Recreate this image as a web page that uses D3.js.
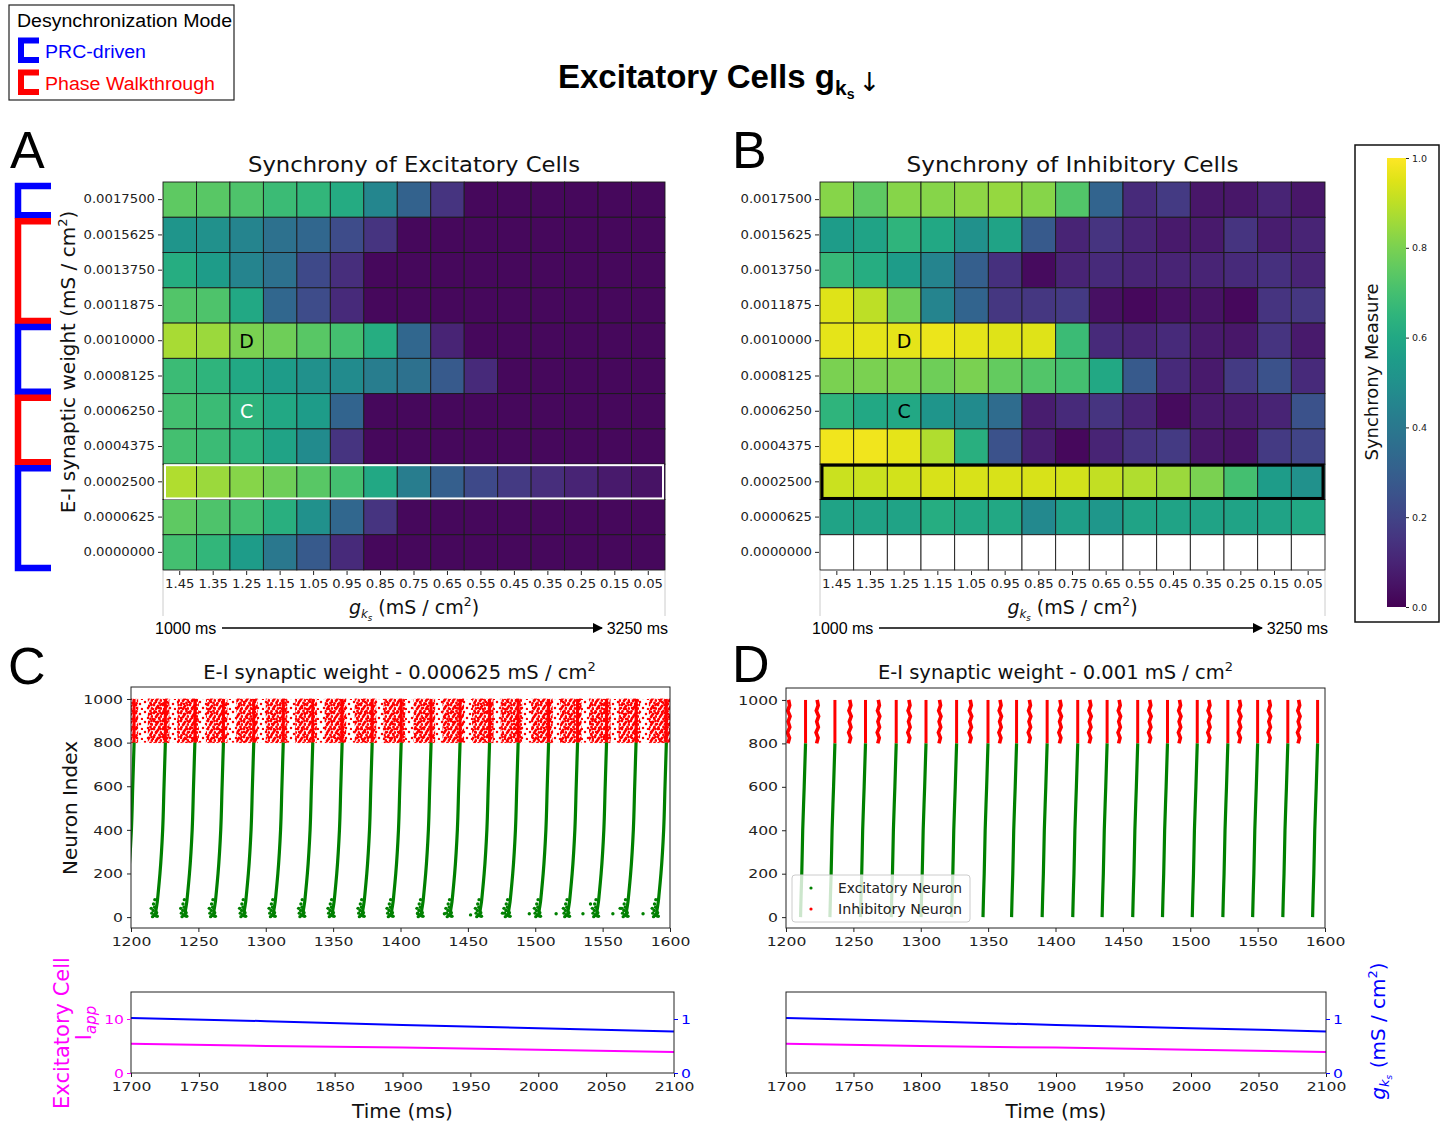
<!doctype html>
<html>
<head>
<meta charset="utf-8">
<style>
    body { margin: 0; background: #fff; }
    svg { display: block; font-family: 'DejaVu Sans', sans-serif; }
    .sans { font-family: 'Liberation Sans', Arial, sans-serif; }
    .tick text { fill: #222; }
    .tick line { stroke: #222; }
</style>
<script src="https://cdn.jsdelivr.net/npm/d3@7"></script>
</head>
<body>
<svg width="1452" height="1122"></svg>
<script>
// ---------- data ----------
const gksLabels = ['1.45','1.35','1.25','1.15','1.05','0.95','0.85','0.75','0.65','0.55','0.45','0.35','0.25','0.15','0.05'];
const weightLabels = ['0.0017500','0.0015625','0.0013750','0.0011875','0.0010000','0.0008125',
                      '0.0006250','0.0004375','0.0002500','0.0000625','0.0000000'];

const syncExc = [
    [0.75,0.74,0.72,0.68,0.66,0.61,0.46,0.31,0.15,0.02,0.02,0.02,0.02,0.02,0.02],
    [0.52,0.50,0.45,0.37,0.33,0.23,0.15,0.02,0.02,0.02,0.02,0.02,0.02,0.02,0.02],
    [0.62,0.55,0.45,0.37,0.22,0.13,0.02,0.02,0.02,0.02,0.02,0.02,0.02,0.02,0.02],
    [0.73,0.72,0.60,0.33,0.23,0.12,0.02,0.02,0.02,0.02,0.02,0.02,0.02,0.02,0.02],
    [0.87,0.85,0.80,0.78,0.74,0.70,0.62,0.33,0.10,0.02,0.02,0.02,0.02,0.02,0.02],
    [0.68,0.65,0.60,0.55,0.50,0.48,0.42,0.37,0.28,0.12,0.02,0.02,0.02,0.02,0.02],
    [0.70,0.68,0.65,0.60,0.55,0.32,0.02,0.02,0.02,0.02,0.02,0.02,0.02,0.02,0.02],
    [0.70,0.68,0.65,0.58,0.48,0.15,0.02,0.02,0.02,0.02,0.02,0.02,0.02,0.02,0.02],
    [0.88,0.85,0.82,0.78,0.74,0.70,0.60,0.42,0.30,0.22,0.17,0.13,0.10,0.07,0.05],
    [0.75,0.72,0.70,0.63,0.50,0.33,0.15,0.02,0.02,0.02,0.02,0.02,0.02,0.02,0.02],
    [0.70,0.66,0.55,0.40,0.28,0.12,0.02,0.02,0.02,0.02,0.02,0.02,0.02,0.02,0.02]
];

const syncInh = [
    [0.82,0.75,0.82,0.82,0.83,0.84,0.82,0.73,0.32,0.12,0.17,0.06,0.06,0.10,0.06],
    [0.55,0.58,0.65,0.60,0.50,0.58,0.28,0.10,0.15,0.10,0.07,0.07,0.15,0.08,0.10],
    [0.67,0.62,0.55,0.45,0.30,0.14,0.03,0.10,0.12,0.10,0.10,0.10,0.12,0.14,0.10],
    [0.95,0.90,0.78,0.45,0.32,0.16,0.16,0.17,0.04,0.02,0.04,0.05,0.02,0.15,0.16],
    [0.96,0.96,0.96,0.97,0.96,0.95,0.95,0.68,0.12,0.10,0.12,0.07,0.06,0.15,0.07],
    [0.80,0.80,0.80,0.78,0.80,0.76,0.73,0.70,0.60,0.28,0.12,0.07,0.17,0.25,0.12],
    [0.65,0.60,0.60,0.52,0.48,0.35,0.08,0.12,0.15,0.10,0.03,0.07,0.07,0.10,0.25],
    [0.98,0.98,0.96,0.88,0.63,0.25,0.08,0.02,0.10,0.15,0.17,0.06,0.05,0.17,0.20],
    [0.92,0.92,0.93,0.94,0.94,0.94,0.94,0.93,0.91,0.88,0.85,0.80,0.70,0.55,0.50],
    [0.58,0.58,0.58,0.62,0.60,0.60,0.47,0.56,0.53,0.58,0.58,0.58,0.58,0.58,0.60],
    [null,null,null,null,null,null,null,null,null,null,null,null,null,null,null]
];

// desynchronization mode per group of weight rows (first row, last row)
const modeGroups = [
    { first: 0, last: 0, mode: 'PRC' },
    { first: 1, last: 3, mode: 'PW' },
    { first: 4, last: 5, mode: 'PRC' },
    { first: 6, last: 7, mode: 'PW' },
    { first: 8, last: 10, mode: 'PRC' }
];
const highlightRow = '0.0002500';
const markC = { gks: '1.25', w: '0.0006250' };
const markD = { gks: '1.25', w: '0.0010000' };

// raster C (w = 0.000625): times when each excitatory volley reaches neuron 800
const burstsC = [1202.3,1225.5,1247.4,1268.6,1291.1,1313.0,1334.9,1356.7,1379.0,1400.5,
                 1422.7,1444.2,1466.1,1487.3,1509.9,1531.4,1552.9,1574.8,1597.3];
// shape of a volley: [ms before the top, neuron index]
const volleyShapeC = [[-7.5,0],[-7,30],[-6,70],[-5.5,100],[-4,200],[-2,400],[-1,600],[0,800]];
const volleyFootC = [[-9.5,2],[-8.5,10],[-10,18],[-7,6],[-9,30],[-8,45],[-6.5,20],[-8.8,60],[-7.8,80],[-10.5,40],[-6,4]];
const strayC = [[1412.8,15],[1432.6,15],[1475.7,18],[1495.6,15],[1515.5,15],[1535.4,15],
                [1557.6,15],[1580,15],[1452,10],[1541,60],[1563,40]];
const inhWindowC = [-13, 3];   // dense inhibitory firing around each volley (ms)

// raster D (w = 0.001)
const burstsD = [1214.5,1236.3,1259.0,1281.8,1303.9,1326.6,1349.9,1371.1,1393.8,1416.5,
                 1438.3,1461.0,1483.1,1505.2,1527.9,1550.0,1572.4,1594.5];
const volleyShapeD = [[-3.7,0],[-3.3,100],[-2.8,200],[-2.1,400],[-1,600],[0,800]];
const inhClustersD = [1201.5,1222.7,1246.9,1268.1,1290.8,1313.5,1336.3,1358.4,1380.2,
                      1402.9,1425.0,1446.8,1469.5,1491.6,1513.4,1536.1,1558.2,1580.0];
const clusterShapeD = [[0,800],[1.1,825],[-0.4,850],[1.3,875],[0.1,900],[1.5,925],[-0.2,950],[1.2,975],[0.4,1000]];

// lower traces
const gksTrace = [[1700,1.02],[1800,0.96],[1900,0.89],[2000,0.83],[2100,0.77]];
const iappTrace = [[1700,5.4],[1800,5.0],[1900,4.7],[2000,4.3],[2100,3.9]];

// ---------- helpers ----------
const svg = d3.select('svg');
const defs = svg.append('defs');
const viridis = d3.scaleSequential(d3.interpolateViridis).domain([0, 1]);
const BLUE = '#0000ff', RED = '#ff0000', MAG = '#ff00ff', GREEN = '#008000';
const intFmt = d3.format('d');

function stretch(sel, k) {
    sel.each(function () {
        const n = this.getComputedTextLength();
        d3.select(this).attr('textLength', n * k).attr('lengthAdjust', 'spacingAndGlyphs');
    });
}
function fitW(sel, w) {
    sel.attr('textLength', w).attr('lengthAdjust', 'spacingAndGlyphs');
}
function bracketPath(x1, x2, y0, y1) {
    return `M${x2},${y0}H${x1}V${y1}H${x2}`;
}

// arrow marker
defs.append('marker').attr('id', 'arrow')
    .attr('viewBox', '0 0 10 10').attr('refX', 9).attr('refY', 5)
    .attr('markerWidth', 7).attr('markerHeight', 7).attr('orient', 'auto')
    .append('path').attr('d', 'M0,0L10,5L0,10z').attr('fill', '#000');

// ---------- header ----------
svg.append('rect').attr('x', 9).attr('y', 5).attr('width', 225).attr('height', 95)
    .attr('fill', 'none').attr('stroke', '#222').attr('stroke-width', 1.2);
svg.append('text').attr('class', 'sans').attr('x', 17).attr('y', 27)
    .attr('font-size', 18).text('Desynchronization Mode').call(fitW, 215);
[{ y: 38, c: BLUE, t: 'PRC-driven' }, { y: 70, c: RED, t: 'Phase Walkthrough' }].forEach(d => {
    svg.append('path').attr('d', bracketPath(21, 39, d.y + 2.5, d.y + 22))
        .attr('fill', 'none').attr('stroke', d.c).attr('stroke-width', 6);
    svg.append('text').attr('class', 'sans').attr('x', 45).attr('y', d.y + 20)
        .attr('font-size', 18).attr('fill', d.c).text(d.t).call(fitW, d.t.length > 12 ? 170 : 101);
});

const title = svg.append('text').attr('class', 'sans').attr('x', 558).attr('y', 88)
    .attr('font-size', 33).attr('font-weight', 'bold');
title.append('tspan').text('Excitatory Cells g');
title.append('tspan').attr('font-size', 21).attr('dy', 7).text('k');
title.append('tspan').attr('font-size', 14).attr('dy', 4).text('s');
title.append('tspan').attr('dy', -8).attr('dx', 4).attr('font-size', 26).attr('font-weight', 'normal')
    .attr('font-family', 'DejaVu Sans').text('\u2193');

[['A', 10, 168], ['B', 732, 168], ['C', 8, 684], ['D', 732, 682]].forEach(d => {
    svg.append('text').attr('class', 'sans').attr('x', d[1]).attr('y', d[2])
        .attr('font-size', 52).text(d[0]);
});

// ---------- heatmaps ----------
function gksLabel(g, cx, y, size) {
    const t = g.append('text').attr('x', cx).attr('y', y).attr('text-anchor', 'middle')
        .attr('font-size', size).attr('fill', '#111');
    t.append('tspan').attr('font-style', 'italic').text('g');
    t.append('tspan').attr('font-style', 'italic').attr('font-size', size * 0.62).attr('dy', 4).text('k');
    t.append('tspan').attr('font-style', 'italic').attr('font-size', size * 0.45).attr('dy', 3).text('s');
    t.append('tspan').attr('dy', -7).text(' (mS / cm');
    t.append('tspan').attr('font-size', size * 0.65).attr('dy', -8).text('2');
    t.append('tspan').attr('dy', 8).text(')');
    return t;
}

function heatmap(o) {
    const g = svg.append('g');
    const x = d3.scaleBand().domain(gksLabels).range([o.l, o.r]);
    const y = d3.scaleBand().domain(weightLabels).range([o.t, o.b]);

    const cells = [];
    o.data.forEach((row, i) => row.forEach((v, j) => cells.push({ w: weightLabels[i], k: gksLabels[j], v })));
    g.selectAll('rect.cell').data(cells).join('rect').attr('class', 'cell')
        .attr('x', d => x(d.k)).attr('y', d => y(d.w))
        .attr('width', x.bandwidth()).attr('height', y.bandwidth())
        .attr('fill', d => d.v == null ? '#fff' : viridis(d.v))
        .attr('stroke', '#1a1a1a').attr('stroke-width', 0.9);

    // highlighted row
    g.append('rect').attr('x', o.l + 2).attr('y', y(highlightRow) + 1)
        .attr('width', o.r - o.l - 4).attr('height', y.bandwidth() - 2)
        .attr('fill', 'none').attr('stroke', o.hl).attr('stroke-width', o.hlw);

    // C / D marks
    [[markD, 'D', o.dColor], [markC, 'C', o.cColor]].forEach(m => {
        g.append('text').attr('x', x(m[0].gks) + x.bandwidth() / 2)
            .attr('y', y(m[0].w) + y.bandwidth() / 2 + 7)
            .attr('text-anchor', 'middle').attr('font-size', 19).attr('fill', m[2]).text(m[1]);
    });

    // axes
    const ya = g.append('g').attr('transform', `translate(${o.l - 1},0)`)
        .call(d3.axisLeft(y).tickSize(4).tickPadding(3));
    ya.select('.domain').remove();
    ya.selectAll('text').attr('font-size', 11.5).attr('font-family', 'DejaVu Sans').call(stretch, 1.15);
    const xa = g.append('g').attr('transform', `translate(0,${o.b + 1})`)
        .call(d3.axisBottom(x).tickSize(4).tickPadding(5));
    xa.select('.domain').remove();
    xa.selectAll('text').attr('font-size', 11.5).attr('font-family', 'DejaVu Sans').call(stretch, 1.15);

    // light spines below the grid
    [o.l, o.r].forEach(px => g.append('line').attr('x1', px).attr('x2', px)
        .attr('y1', o.b + 1).attr('y2', o.b + 46).attr('stroke', '#ccc').attr('stroke-width', 1));

    g.append('text').attr('x', (o.l + o.r) / 2).attr('y', 172).attr('text-anchor', 'middle')
        .attr('font-size', 22).attr('fill', '#111').text(o.title).call(fitW, 332);
    gksLabel(g, (o.l + o.r) / 2, 614, 19);

    // time arrow
    g.append('text').attr('class', 'sans').attr('x', o.l - 8).attr('y', 634)
        .attr('font-size', 16).text('1000 ms');
    g.append('text').attr('class', 'sans').attr('x', o.r + 3).attr('y', 634)
        .attr('font-size', 16).attr('text-anchor', 'end').text('3250 ms');
    g.append('line').attr('x1', o.l + 59).attr('x2', o.r - 63).attr('y1', 628).attr('y2', 628)
        .attr('stroke', '#000').attr('stroke-width', 1.5).attr('marker-end', 'url(#arrow)');
    return y;
}

const yA = heatmap({ l: 163, r: 665, t: 182, b: 570, data: syncExc, title: 'Synchrony of Excitatory Cells',
    hl: '#fff', hlw: 2, dColor: '#000', cColor: '#fff' });
heatmap({ l: 820, r: 1325, t: 182, b: 570, data: syncInh, title: 'Synchrony of Inhibitory Cells',
    hl: '#000', hlw: 3, dColor: '#000', cColor: '#000' });

// y label of A
const yl = svg.append('text').attr('transform', 'translate(75,362) rotate(-90)')
    .attr('text-anchor', 'middle').attr('font-size', 20).attr('fill', '#111');
yl.append('tspan').text('E-I synaptic weight (mS / cm');
yl.append('tspan').attr('font-size', 13).attr('dy', -8).text('2');
yl.append('tspan').attr('dy', 8).text(')');

// mode brackets
svg.append('g').selectAll('path').data(modeGroups).join('path')
    .attr('d', d => bracketPath(18, 51, yA(weightLabels[d.first]) + 4, yA(weightLabels[d.last]) + yA.bandwidth() - 2))
    .attr('fill', 'none').attr('stroke', d => d.mode === 'PRC' ? BLUE : RED).attr('stroke-width', 6.5);

// ---------- colorbar ----------
const grad = defs.append('linearGradient').attr('id', 'vir').attr('x1', 0).attr('x2', 0).attr('y1', 1).attr('y2', 0);
d3.range(0, 1.0001, 0.05).forEach(s => grad.append('stop').attr('offset', s).attr('stop-color', viridis(s)));
svg.append('rect').attr('x', 1355).attr('y', 145).attr('width', 84).attr('height', 477)
    .attr('fill', 'none').attr('stroke', '#111').attr('stroke-width', 1.5);
svg.append('rect').attr('x', 1387).attr('y', 158).attr('width', 19).attr('height', 449).attr('fill', 'url(#vir)');
const cb = svg.append('g').attr('transform', 'translate(1406,0)')
    .call(d3.axisRight(d3.scaleLinear().domain([0, 1]).range([607, 158])).ticks(5).tickFormat(d3.format('.1f')).tickSize(3));
cb.select('.domain').remove();
cb.selectAll('text').attr('font-size', 9.5).attr('font-family', 'DejaVu Sans');
svg.append('text').attr('transform', 'translate(1378,372) rotate(-90)').attr('text-anchor', 'middle')
    .attr('font-size', 18).attr('fill', '#111').text('Synchrony Measure');

// ---------- rasters ----------
// dot textures for the inhibitory cloud
function dotPattern(id, w, h, pts, r) {
    const p = defs.append('pattern').attr('id', id).attr('patternUnits', 'userSpaceOnUse')
        .attr('width', w).attr('height', h);
    pts.forEach(q => p.append('circle').attr('cx', q[0]).attr('cy', q[1]).attr('r', r).attr('fill', RED));
}
dotPattern('inhDense', 9, 8, [[1,1],[5,2],[8,4.5],[3,5],[6.5,7],[1.5,7.5],[4,3.5],[7.5,1]], 1.4);
dotPattern('inhSparse', 11, 10, [[2,2],[8,4],[5,8],[10,9]], 1.25);

function raster(o) {
    const g = svg.append('g');
    const x = d3.scaleLinear().domain([1200, 1600]).range([o.l, o.r]);
    const y = d3.scaleLinear().domain([-50, 1055]).range([o.b, o.t]);
    defs.append('clipPath').attr('id', o.id).append('rect')
        .attr('x', o.l).attr('y', o.t).attr('width', o.r - o.l).attr('height', o.b - o.t);
    const pg = g.append('g').attr('clip-path', `url(#${o.id})`);
    o.draw(pg, x, y);
    g.append('rect').attr('x', o.l).attr('y', o.t).attr('width', o.r - o.l).attr('height', o.b - o.t)
        .attr('fill', 'none').attr('stroke', '#222').attr('stroke-width', 1);
    const xa = g.append('g').attr('transform', `translate(0,${o.b})`)
        .call(d3.axisBottom(x).tickValues(d3.range(1200, 1601, 50)).tickFormat(intFmt).tickSize(4).tickPadding(5));
    xa.select('.domain').remove();
    xa.selectAll('text').attr('font-size', 13).attr('font-family', 'DejaVu Sans').call(stretch, 1.2);
    const ya = g.append('g').attr('transform', `translate(${o.l},0)`)
        .call(d3.axisLeft(y).tickValues(d3.range(0, 1001, 200)).tickFormat(intFmt).tickSize(4).tickPadding(4));
    ya.select('.domain').remove();
    ya.selectAll('text').attr('font-size', 13).attr('font-family', 'DejaVu Sans').call(stretch, 1.2);

    const t = g.append('text').attr('x', (o.l + o.r) / 2 + o.tdx).attr('y', 679)
        .attr('text-anchor', 'middle').attr('font-size', 19.5).attr('fill', '#111');
    t.append('tspan').text(o.title);
    t.append('tspan').attr('font-size', 13).attr('dy', -8).text('2');
    return g;
}

const volley = (shape, x, y, t) => d3.line().x(d => x(t + d[0])).y(d => y(d[1])).curve(d3.curveMonotoneY)(shape);

raster({ id: 'clipC', l: 131, r: 670, t: 687, b: 928, tdx: -1, title: 'E-I synaptic weight - 0.000625 mS / cm',
    draw: (g, x, y) => {
        g.append('rect').attr('x', x(1200)).attr('y', y(1000)).attr('width', x(1600) - x(1200))
            .attr('height', y(800) - y(1000)).attr('fill', 'url(#inhSparse)');
        g.selectAll('rect.dense').data(burstsC).join('rect').attr('class', 'dense')
            .attr('x', t => x(t + inhWindowC[0])).attr('y', y(1002))
            .attr('width', x(1200 + inhWindowC[1] - inhWindowC[0]) - x(1200))
            .attr('height', y(798) - y(1002)).attr('fill', 'url(#inhDense)');
        g.selectAll('line.inh').data(burstsC).join('line').attr('class', 'inh')
            .attr('x1', t => x(t)).attr('x2', t => x(t)).attr('y1', y(800)).attr('y2', y(1000))
            .attr('stroke', RED).attr('stroke-width', 3);
        g.selectAll('path.exc').data(burstsC).join('path').attr('class', 'exc')
            .attr('d', t => volley(volleyShapeC, x, y, t))
            .attr('fill', 'none').attr('stroke', GREEN).attr('stroke-width', 3.2);
        burstsC.forEach(t => {
            g.selectAll(null).data(volleyFootC).join('circle')
                .attr('cx', d => x(t + d[0])).attr('cy', d => y(d[1])).attr('r', 1.7).attr('fill', GREEN);
        });
        g.selectAll('circle.stray').data(strayC).join('circle').attr('class', 'stray')
            .attr('cx', d => x(d[0])).attr('cy', d => y(d[1])).attr('r', 1.7).attr('fill', GREEN);
    } });
svg.append('text').attr('transform', 'translate(77,808) rotate(-90)').attr('text-anchor', 'middle')
    .attr('font-size', 20).attr('fill', '#111').text('Neuron Index');

raster({ id: 'clipD', l: 786, r: 1325, t: 688, b: 928, tdx: 0, title: 'E-I synaptic weight - 0.001 mS / cm',
    draw: (g, x, y) => {
        g.selectAll('line.inh').data(burstsD).join('line').attr('class', 'inh')
            .attr('x1', t => x(t)).attr('x2', t => x(t)).attr('y1', y(800)).attr('y2', y(1000))
            .attr('stroke', RED).attr('stroke-width', 3);
        g.selectAll('path.clu').data(inhClustersD).join('path').attr('class', 'clu')
            .attr('d', t => d3.line().x(d => x(t + d[0])).y(d => y(d[1])).curve(d3.curveLinear)(clusterShapeD))
            .attr('fill', 'none').attr('stroke', RED).attr('stroke-width', 3.6);
        g.selectAll('path.exc').data(burstsD).join('path').attr('class', 'exc')
            .attr('d', t => volley(volleyShapeD, x, y, t))
            .attr('fill', 'none').attr('stroke', GREEN).attr('stroke-width', 3.2);
    } });

// legend in D
const lg = svg.append('g');
lg.append('rect').attr('x', 792).attr('y', 875).attr('width', 178).attr('height', 47).attr('rx', 3)
    .attr('fill', '#fff').attr('fill-opacity', 0.8).attr('stroke', '#ccc');
[['Excitatory Neuron', GREEN, 888], ['Inhibitory Neuron', RED, 909]].forEach(d => {
    lg.append('circle').attr('cx', 811).attr('cy', d[2]).attr('r', 1.6).attr('fill', d[1]);
    lg.append('text').attr('x', 838).attr('y', d[2] + 5).attr('font-size', 13.5).attr('fill', '#222')
        .text(d[0]).call(fitW, 124);
});

// ---------- lower traces ----------
function traces(o) {
    const g = svg.append('g');
    const x = d3.scaleLinear().domain([1700, 2100]).range([o.l, o.r]);
    const yL = d3.scaleLinear().domain([0, 15]).range([o.b, o.t]);
    const yR = d3.scaleLinear().domain([0, 1.5]).range([o.b, o.t]);
    g.append('path').attr('d', d3.line().x(d => x(d[0])).y(d => yL(d[1]))(iappTrace))
        .attr('fill', 'none').attr('stroke', MAG).attr('stroke-width', 2);
    g.append('path').attr('d', d3.line().x(d => x(d[0])).y(d => yR(d[1]))(gksTrace))
        .attr('fill', 'none').attr('stroke', BLUE).attr('stroke-width', 2);
    g.append('rect').attr('x', o.l).attr('y', o.t).attr('width', o.r - o.l).attr('height', o.b - o.t)
        .attr('fill', 'none').attr('stroke', '#222').attr('stroke-width', 1);

    const xa = g.append('g').attr('transform', `translate(0,${o.b})`)
        .call(d3.axisBottom(x).tickValues(d3.range(1700, 2101, 50)).tickFormat(intFmt).tickSize(4).tickPadding(5));
    xa.select('.domain').remove();
    xa.selectAll('text').attr('font-size', 13).attr('font-family', 'DejaVu Sans').call(stretch, 1.2);

    if (o.leftTicks) {
        const la = g.append('g').attr('transform', `translate(${o.l},0)`)
            .call(d3.axisLeft(yL).tickValues([0, 10]).tickFormat(intFmt).tickSize(4).tickPadding(3));
        la.select('.domain').remove();
        la.selectAll('line').style('stroke', MAG);
        la.selectAll('text').style('fill', MAG).attr('font-size', 13).attr('font-family', 'DejaVu Sans').call(stretch, 1.2);
    }
    const ra = g.append('g').attr('transform', `translate(${o.r},0)`)
        .call(d3.axisRight(yR).tickValues([0, 1]).tickFormat(intFmt).tickSize(4).tickPadding(3));
    ra.select('.domain').remove();
    ra.selectAll('line').style('stroke', BLUE);
    ra.selectAll('text').style('fill', BLUE).attr('font-size', 13).attr('font-family', 'DejaVu Sans').call(stretch, 1.2);

    g.append('text').attr('x', (o.l + o.r) / 2).attr('y', 1118).attr('text-anchor', 'middle')
        .attr('font-size', 20).attr('fill', '#111').text('Time (ms)');
}
traces({ l: 131, r: 674, t: 992, b: 1073, leftTicks: true });
traces({ l: 786, r: 1326, t: 992, b: 1073, leftTicks: false });

svg.append('text').attr('transform', 'translate(69,1033) rotate(-90)').attr('text-anchor', 'middle')
    .attr('font-size', 21).attr('fill', MAG).text('Excitatory Cell');
const ia = svg.append('text').attr('transform', 'translate(91,1023) rotate(-90)').attr('text-anchor', 'middle')
    .attr('font-size', 21).attr('fill', MAG);
ia.append('tspan').text('I');
ia.append('tspan').attr('font-size', 15).attr('font-style', 'italic').attr('dy', 5).text('app');

const gl = svg.append('text').attr('transform', 'translate(1385,1031) rotate(-90)').attr('text-anchor', 'middle')
    .attr('font-size', 20).attr('fill', BLUE);
gl.append('tspan').attr('font-style', 'italic').text('g');
gl.append('tspan').attr('font-style', 'italic').attr('font-size', 13).attr('dy', 4).text('k');
gl.append('tspan').attr('font-style', 'italic').attr('font-size', 9).attr('dy', 3).text('s');
gl.append('tspan').attr('dy', -7).text(' (mS / cm');
gl.append('tspan').attr('font-size', 13).attr('dy', -8).text('2');
gl.append('tspan').attr('dy', 8).text(')');
</script>
</body>
</html>
